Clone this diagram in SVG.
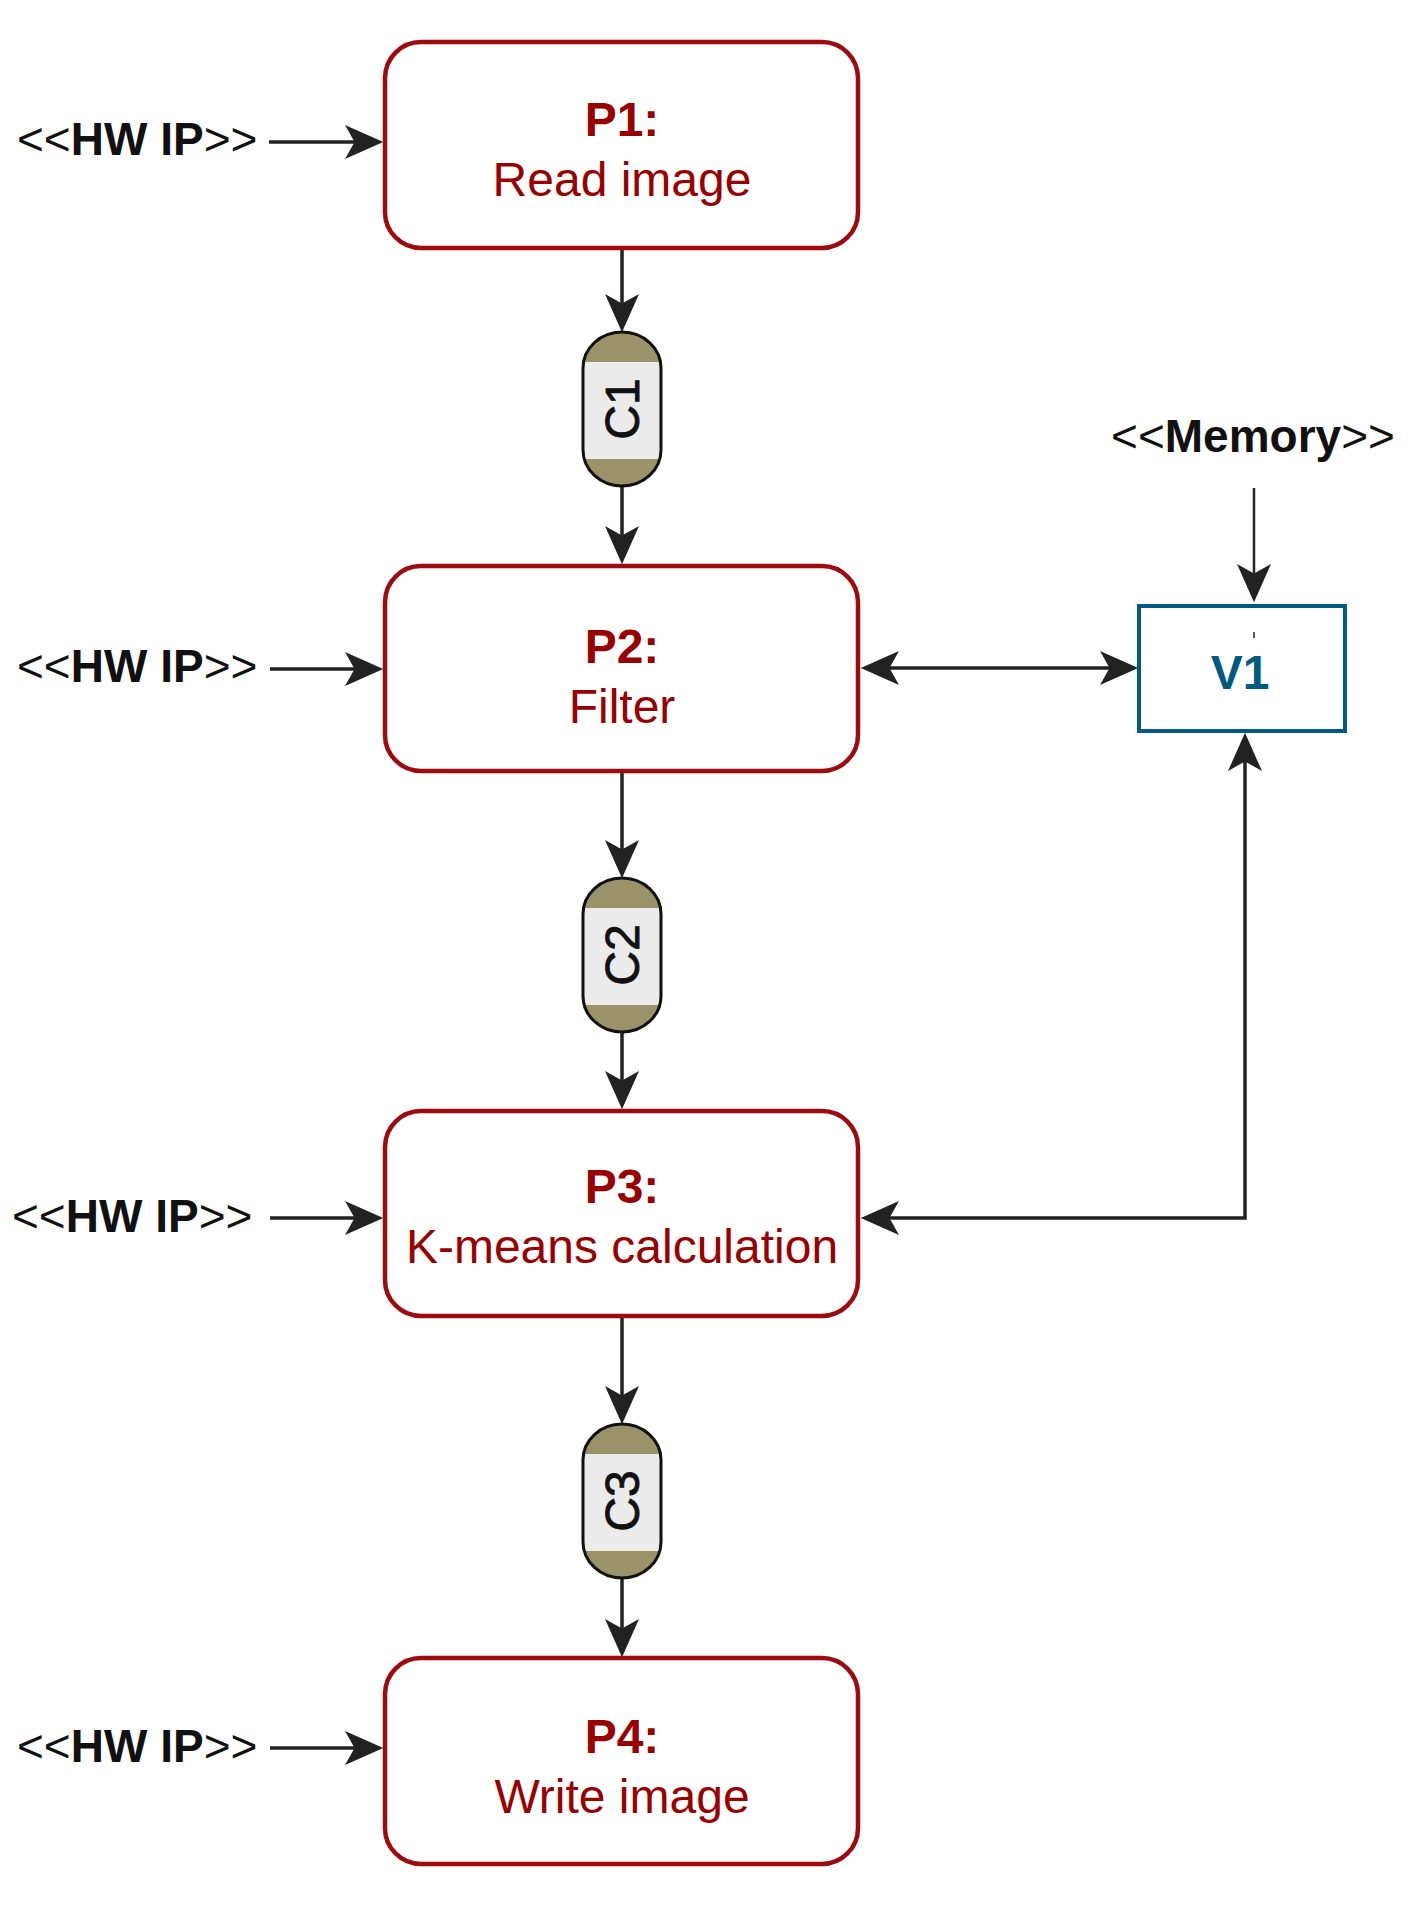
<svg xmlns="http://www.w3.org/2000/svg" width="1415" height="1922" viewBox="0 0 1415 1922">
<style>
.proc{fill:#fff;stroke:#9E0B0F;stroke-width:4.5}
.ptitle{font-family:"Liberation Sans",Arial,sans-serif;font-size:48px;font-weight:bold;fill:#990000;text-anchor:middle}
.psub{font-family:"Liberation Sans",Arial,sans-serif;font-size:48px;fill:#990000;text-anchor:middle}
.lbl{font-family:"Liberation Sans",Arial,sans-serif;font-size:46px;fill:#111}
.lbl .b{font-weight:bold}
.ctext{font-family:"Liberation Sans",Arial,sans-serif;font-size:48px;fill:#111;stroke:#111;stroke-width:0.9;text-anchor:middle}
.conn{fill:none;stroke:#222;stroke-width:3.5}
.thin{stroke-width:2.5}
.olive{fill:#9A9369}
.gray{fill:#EBEBEB}
.capline{fill:none;stroke:#111;stroke-width:3}
</style>
<defs>
<marker id="ah" markerUnits="userSpaceOnUse" markerWidth="40" markerHeight="34" viewBox="0 0 36 32" refX="16" refY="16" orient="auto-start-reverse">
<path d="M0,0 L36,16 L0,32 L9,16 Z" fill="#222"/>
</marker>
<clipPath id="capclip"><rect x="0" y="0" width="78" height="154" rx="39" ry="36"/></clipPath>
<g id="cap">
<g clip-path="url(#capclip)">
<rect x="0" y="0" width="78" height="154" class="olive"/>
<rect x="0" y="30" width="78" height="97" class="gray"/>
</g>
<rect x="0" y="0" width="78" height="154" rx="39" ry="36" class="capline"/>
</g>
</defs>
<rect width="1415" height="1922" fill="#fff"/>

<g id="connectors">
<path class="conn" d="M269,142 H362" marker-end="url(#ah)"/>
<path class="conn" d="M270,669 H362" marker-end="url(#ah)"/>
<path class="conn" d="M270,1218 H362" marker-end="url(#ah)"/>
<path class="conn" d="M270,1748 H362" marker-end="url(#ah)"/>
<path class="conn" d="M622,248 V311" marker-end="url(#ah)"/>
<path class="conn" d="M622,486 V543" marker-end="url(#ah)"/>
<path class="conn" d="M622,771 V857" marker-end="url(#ah)"/>
<path class="conn" d="M622,1033 V1088" marker-end="url(#ah)"/>
<path class="conn" d="M622,1317 V1403" marker-end="url(#ah)"/>
<path class="conn" d="M622,1579 V1636" marker-end="url(#ah)"/>
<path class="conn" d="M882,668 H1117" marker-start="url(#ah)" marker-end="url(#ah)"/>
<path class="conn" d="M882,1218 H1245 V754" marker-start="url(#ah)" marker-end="url(#ah)"/>
<path class="conn thin" d="M1254,488 V581" marker-end="url(#ah)"/>
</g>

<g id="hwip1"><text class="lbl" x="17" y="155">&lt;&lt;<tspan class="b">HW IP</tspan>&gt;&gt;</text></g>
<g id="hwip2"><text class="lbl" x="17" y="682">&lt;&lt;<tspan class="b">HW IP</tspan>&gt;&gt;</text></g>
<g id="hwip3"><text class="lbl" x="12" y="1232">&lt;&lt;<tspan class="b">HW IP</tspan>&gt;&gt;</text></g>
<g id="hwip4"><text class="lbl" x="17" y="1762">&lt;&lt;<tspan class="b">HW IP</tspan>&gt;&gt;</text></g>
<g id="memory"><text class="lbl" x="1253" y="452" text-anchor="middle">&lt;&lt;<tspan class="b">Memory</tspan>&gt;&gt;</text></g>

<g id="P1">
<rect class="proc" x="385" y="42" width="473" height="206" rx="36" ry="36"/>
<text class="ptitle" x="622" y="136">P1:</text>
<text class="psub" x="622" y="196">Read image</text>
</g>
<g id="C1">
<use href="#cap" x="583" y="332"/>
<text class="ctext" transform="translate(639,409) rotate(-90)">C1</text>
</g>
<g id="P2">
<rect class="proc" x="385" y="566" width="473" height="205" rx="36" ry="36"/>
<text class="ptitle" x="622" y="663">P2:</text>
<text class="psub" x="622" y="723">Filter</text>
</g>
<g id="V1">
<rect x="1139" y="606" width="206" height="125" fill="#fff" stroke="#035A80" stroke-width="4"/>
<line x1="1254" y1="632" x2="1254" y2="638" stroke="#222" stroke-width="1.5"/>
<text x="1240" y="689" font-family="'Liberation Sans',Arial,sans-serif" font-size="48" font-weight="bold" fill="#035A80" text-anchor="middle">V1</text>
</g>
<g id="C2">
<use href="#cap" x="583" y="878"/>
<text class="ctext" transform="translate(639,955) rotate(-90)">C2</text>
</g>
<g id="P3">
<rect class="proc" x="385" y="1111" width="473" height="205" rx="36" ry="36"/>
<text class="ptitle" x="622" y="1203">P3:</text>
<text class="psub" x="622" y="1263">K-means calculation</text>
</g>
<g id="C3">
<use href="#cap" x="583" y="1424"/>
<text class="ctext" transform="translate(639,1501) rotate(-90)">C3</text>
</g>
<g id="P4">
<rect class="proc" x="385" y="1658" width="473" height="206" rx="36" ry="36"/>
<text class="ptitle" x="622" y="1753">P4:</text>
<text class="psub" x="622" y="1813">Write image</text>
</g>
</svg>
